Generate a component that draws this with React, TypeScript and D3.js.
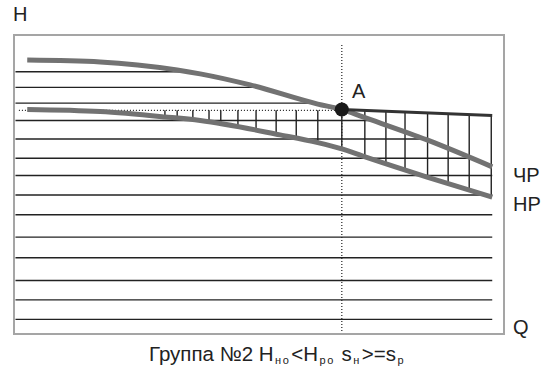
import React, { useEffect, useRef } from 'react';
import * as d3 from 'd3';

// ЧР curve (upper, gray)
const chrQ = [2.7, 17.6, 33.3, 38.0, 48.2, 62.0, 66.9, 71.2, 84.3, 97.6];
const chrH = [91.6, 91.0, 88.3, 87.0, 83.3, 76.9, 75.1, 72.6, 64.9, 55.9];

// НР curve (lower, gray)
const nrQ = [2.7, 17.6, 30.8, 38.0, 54.3, 62.0, 66.9, 71.2, 84.3, 97.6];
const nrH = [75.1, 74.4, 72.6, 71.4, 66.6, 64.0, 61.9, 59.5, 52.5, 45.8];

// dark line from point A to the right
const topQ = [66.9, 97.6];
const topH = [75.1, 73.1];

const pointA = { q: 66.9, h: 75.1 };
const dottedH = 74.8;

// horizontal hatch levels and vertical hatch positions
const levelsH = [87.7, 82.5, 77.2, 71.4, 65.2, 58.8, 53.0, 46.5, 39.9, 32.4, 25.5, 17.9, 11.4, 4.9];
const hatchQ = [30.8, 33.3, 36.5, 39.8, 42.2, 45.7, 49.4, 53.5, 57.6, 62.0, 66.9, 71.6, 75.9, 79.8, 84.4, 88.6, 92.9, 97.4];

const interp = (xs: number[], ys: number[], x: number) => {
  if (x <= xs[0]) return ys[0];
  for (let i = 1; i < xs.length; i++) {
    if (x <= xs[i]) {
      const t = (x - xs[i - 1]) / (xs[i] - xs[i - 1]);
      return ys[i - 1] + t * (ys[i] - ys[i - 1]);
    }
  }
  return ys[ys.length - 1];
};

// where a horizontal level meets the ЧР curve
const crossChr = (h: number) => {
  for (let i = 1; i < chrQ.length; i++) {
    if (chrH[i] <= h) {
      const t = (chrH[i - 1] - h) / (chrH[i - 1] - chrH[i]);
      return chrQ[i - 1] + t * (chrQ[i] - chrQ[i - 1]);
    }
  }
  return chrQ[chrQ.length - 1];
};

const App = () => {
  const svgRef = useRef<SVGSVGElement>(null);

  useEffect(() => {
    const svg = d3.select(svgRef.current);
    svg.selectAll('*').remove();

    const x = d3.scaleLinear().domain([0, 100]).range([14, 504]);
    const y = d3.scaleLinear().domain([0, 100]).range([334, 35]);

    const font = '"Liberation Sans", Arial, sans-serif';
    const ink = '#222';

    // horizontal hatch lines, cut at the ЧР curve
    svg.append('g')
      .selectAll('line')
      .data(levelsH)
      .enter()
      .append('line')
      .attr('x1', x(0.3))
      .attr('x2', d => x(crossChr(d)))
      .attr('y1', d => y(d))
      .attr('y2', d => y(d))
      .attr('stroke', ink)
      .attr('stroke-width', 1.4);

    // vertical hatch lines between top boundary and НР curve
    svg.append('g')
      .selectAll('line')
      .data(hatchQ)
      .enter()
      .append('line')
      .attr('x1', d => x(d))
      .attr('x2', d => x(d))
      .attr('y1', d => y(d < pointA.q ? dottedH : interp(topQ, topH, d)))
      .attr('y2', d => y(interp(nrQ, nrH, d)))
      .attr('stroke', ink)
      .attr('stroke-width', 1.4);

    // dotted guides
    svg.append('line')
      .attr('x1', x(1)).attr('x2', x(pointA.q))
      .attr('y1', y(dottedH)).attr('y2', y(dottedH))
      .attr('stroke', ink)
      .attr('stroke-width', 1.2)
      .attr('stroke-dasharray', '1,2');

    svg.append('line')
      .attr('x1', x(pointA.q)).attr('x2', x(pointA.q))
      .attr('y1', 45).attr('y2', y(0))
      .attr('stroke', ink)
      .attr('stroke-width', 1.2)
      .attr('stroke-dasharray', '1,2');

    const line = d3.line<[number, number]>()
      .x(d => x(d[0]))
      .y(d => y(d[1]))
      .curve(d3.curveMonotoneX);

    // ЧР and НР curves
    [[chrQ, chrH], [nrQ, nrH]].forEach(([qs, hs]) => {
      svg.append('path')
        .attr('d', line(qs.map((q, i) => [q, hs[i]] as [number, number])))
        .attr('fill', 'none')
        .attr('stroke', '#727272')
        .attr('stroke-width', 5);
    });

    svg.append('path')
      .attr('d', line(topQ.map((q, i) => [q, topH[i]] as [number, number])))
      .attr('fill', 'none')
      .attr('stroke', '#333')
      .attr('stroke-width', 3);

    svg.append('circle')
      .attr('cx', x(pointA.q))
      .attr('cy', y(pointA.h))
      .attr('r', 7)
      .attr('fill', '#1a1a1a');

    // frame
    svg.append('rect')
      .attr('x', x(0))
      .attr('y', y(100))
      .attr('width', x(100) - x(0))
      .attr('height', y(0) - y(100))
      .attr('fill', 'none')
      .attr('stroke', '#a5a5a5')
      .attr('stroke-width', 2);

    // labels
    const label = (t: string, lx: number, ly: number) =>
      svg.append('text')
        .attr('x', lx)
        .attr('y', ly)
        .style('font-family', font)
        .style('font-size', '20px')
        .style('fill', ink)
        .text(t);

    label('H', 13, 21);
    label('A', 352, 98);
    label('ЧР', 513, 182);
    label('НР', 513, 211);
    label('Q', 513, 334);

    // caption with subscripts
    const cap = svg.append('text')
      .attr('x', 149)
      .attr('y', 361)
      .style('font-family', font)
      .style('font-size', '20.5px')
      .style('fill', ink);

    const parts: [string, boolean][] = [
      ['Группа №2 H', false], ['но', true], ['<H', false], ['ро', true],
      [' s', false], ['н', true], ['>=s', false], ['р', true]
    ];
    parts.forEach(([t, sub], i) => {
      const prevSub = i > 0 && parts[i - 1][1];
      cap.append('tspan')
        .attr('dy', sub ? 3 : prevSub ? -3 : 0)
        .attr('dx', sub ? 1.5 : prevSub ? 1 : 0)
        .style('font-size', sub ? '11px' : '20.5px')
        .style('letter-spacing', sub ? '1.5px' : '0px')
        .text(t);
    });
  }, []);

  return (
    <svg
      ref={svgRef}
      width={549}
      height={380}
      style={{ position: 'absolute', left: 0, top: 0, background: '#fff' }}
    />
  );
};

export default App;
